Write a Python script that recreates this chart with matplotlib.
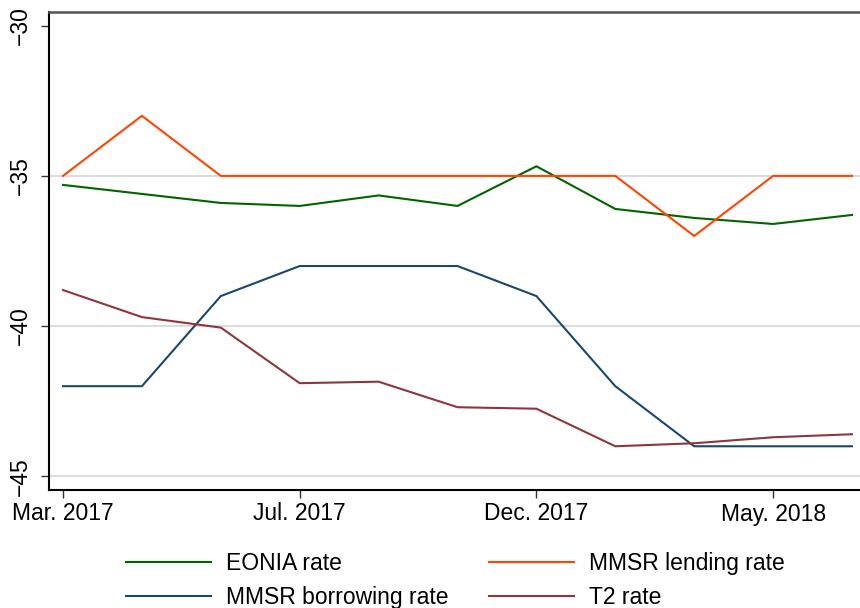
import matplotlib
matplotlib.use("Agg")
import matplotlib.pyplot as plt
from matplotlib.lines import Line2D

plt.rcParams['font.family'] = ['Liberation Sans', 'DejaVu Sans']

tick_labels = ["Mar. 2017", "Jul. 2017", "Dec. 2017", "May. 2018"]
tick_pos = [0, 3, 6, 9]
periods = list(range(11))

eonia = [-35.3, -35.6, -35.9, -36.0, -35.65, -36.0, -34.68, -36.1, -36.4, -36.6, -36.3]
lending = [-35, -33, -35, -35, -35, -35, -35, -35, -37, -35, -35]
borrowing = [-42, -42, -39, -38, -38, -38, -39, -42, -44, -44, -44]
t2 = [-38.8, -39.7, -40.05, -41.9, -41.85, -42.7, -42.75, -44.0, -43.9, -43.7, -43.6]

FS = 16.5
fig = plt.figure(figsize=(8.6, 6.08), dpi=100)
ax = fig.add_axes([49/860, 1-490/608, 1-49/860, (490-12)/608])

for y in [-35, -40, -45]:
    ax.axhline(y, color='#dcdcdc', lw=1.5, zorder=0)

c_eon, c_len, c_bor, c_t2 = '#006400', '#ff4500', '#1a476f', '#90353b'
ax.plot(periods, eonia, color=c_eon, lw=1.5, label='EONIA rate')
ax.plot(periods, lending, color=c_len, lw=1.5, label='MMSR lending rate')
ax.plot(periods, borrowing, color=c_bor, lw=1.5, label='MMSR borrowing rate')
ax.plot(periods, t2, color=c_t2, lw=1.5, label='T2 rate')

ax.set_xlim(-14/78.9, 10 + 8/78.9)
ax.set_ylim(-45 - 13.7/30.07, -30 + 13.7/30.07)
ax.set_xticks(tick_pos)
ax.set_xticklabels(tick_labels, fontsize=FS)
ax.set_yticks([-30, -35, -40, -45])
ax.set_yticklabels(['\u221230', '\u221235', '\u221240', '\u221245'], fontsize=FS, rotation=90, va='center')
ax.tick_params(axis='both', length=6, width=1, color='#333333')
ax.tick_params(axis='y', pad=6)
ax.tick_params(axis='x', pad=3)
ax.spines['right'].set_visible(False)
ax.spines['top'].set_color('#555555')
ax.spines['top'].set_linewidth(1.8)
ax.spines['left'].set_linewidth(1.5)
ax.spines['bottom'].set_linewidth(1.5)

handles = [Line2D([], [], color=c_eon, lw=1.5), Line2D([], [], color=c_len, lw=1.5),
           Line2D([], [], color=c_bor, lw=1.5), Line2D([], [], color=c_t2, lw=1.5)]
labels = ['EONIA rate', 'MMSR lending rate', 'MMSR borrowing rate', 'T2 rate']
order = [0, 2, 1, 3]
fig.legend([handles[i] for i in order], [labels[i] for i in order], ncol=2,
           loc='upper left', bbox_to_anchor=(126/860, 1-552/608), frameon=False,
           fontsize=FS, handlelength=3.7, handletextpad=0.65, columnspacing=1.8,
           labelspacing=0.5, borderpad=0, borderaxespad=0)

fig.savefig('out.png', dpi=100, facecolor='white')
